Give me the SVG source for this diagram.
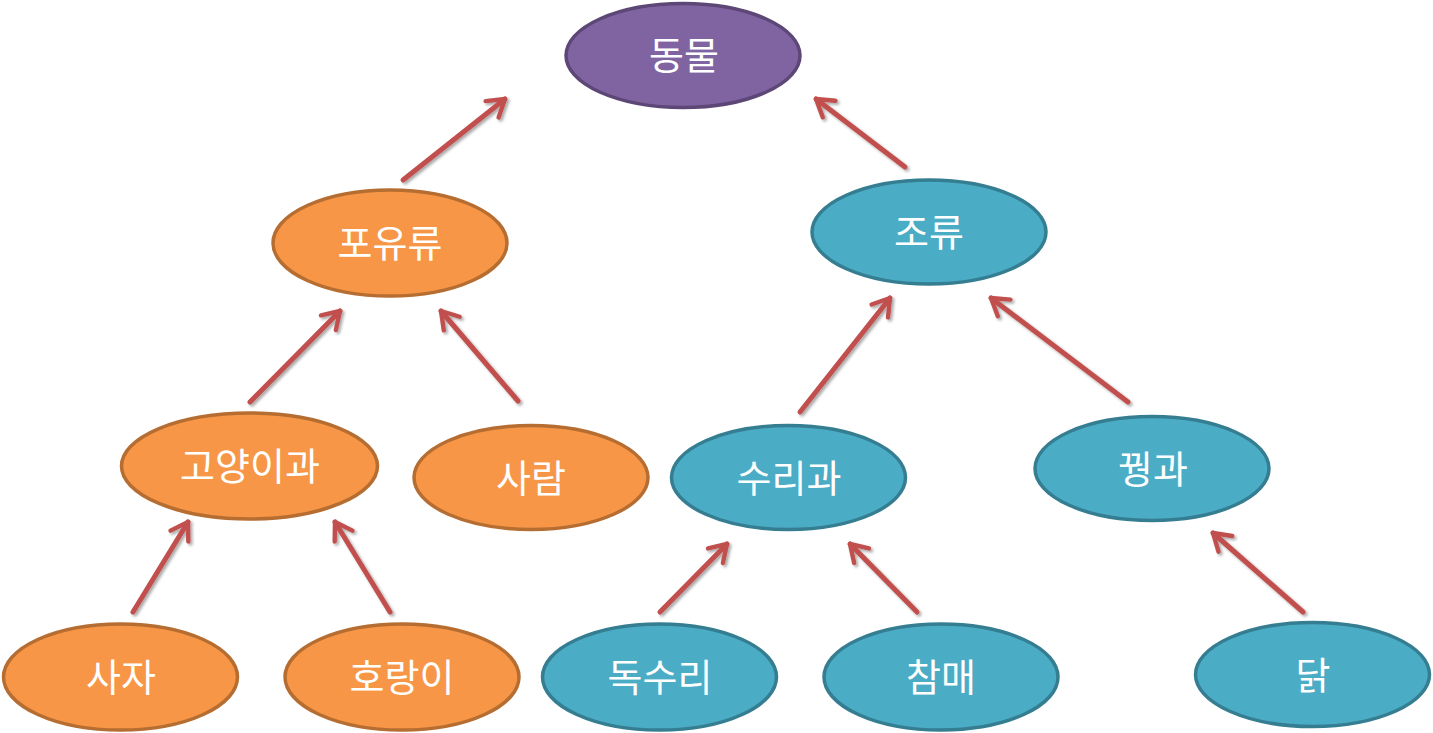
<svg xmlns="http://www.w3.org/2000/svg" width="1433" height="733" viewBox="0 0 1433 733">
<defs>
<style>
.n ellipse{stroke-width:3.5}
.p ellipse{fill:#8064A2;stroke:#5C4776}
.o ellipse{fill:#F79646;stroke:#B66D31}
.b ellipse{fill:#4BACC6;stroke:#357D91}
text{font-family:"Noto Sans CJK KR","Noto Sans",sans-serif;font-size:38px;font-weight:400;fill:#FFFFFF;text-anchor:middle}
.c line{stroke:#C0504D;stroke-width:5;stroke-linecap:round;marker-end:url(#ah);filter:url(#sh)}
</style>
<marker id="ah" viewBox="0 0 10 10" refX="8" refY="5" markerWidth="5.5" markerHeight="5.5" orient="auto" markerUnits="strokeWidth">
<polyline points="2,1.2 8,5 2,8.8" fill="none" stroke="#C0504D" stroke-width="1.6" stroke-linecap="round" stroke-linejoin="round"/>
</marker>
<filter id="sh" x="-20%" y="-20%" width="140%" height="140%">
<feGaussianBlur in="SourceAlpha" stdDeviation="1.5"/>
<feOffset dx="1.5" dy="2" result="b"/>
<feComponentTransfer><feFuncA type="linear" slope="0.35"/></feComponentTransfer>
<feMerge><feMergeNode/><feMergeNode in="SourceGraphic"/></feMerge>
</filter>
</defs>
<g class="c" id="connectors">
<line x1="403" y1="180" x2="505" y2="99"/>
<line x1="905" y1="167" x2="816" y2="99"/>
<line x1="250" y1="402" x2="340" y2="311"/>
<line x1="518" y1="401" x2="441" y2="311"/>
<line x1="800" y1="412" x2="890" y2="298"/>
<line x1="1128" y1="402" x2="991" y2="298"/>
<line x1="133" y1="612" x2="188" y2="522"/>
<line x1="390" y1="612" x2="335" y2="522"/>
<line x1="660" y1="612" x2="727" y2="544"/>
<line x1="917" y1="612" x2="850" y2="544"/>
<line x1="1303" y1="612" x2="1213" y2="533"/>
</g>
<g id="n-animal" class="n p"><ellipse cx="683" cy="55.5" rx="117" ry="52"/><text x="684" y="69">동물</text></g>
<g id="n-mammal" class="n o"><ellipse cx="390" cy="243" rx="117" ry="53"/><text x="390" y="257">포유류</text></g>
<g id="n-bird" class="n b"><ellipse cx="929" cy="232" rx="117" ry="52"/><text x="929" y="246">조류</text></g>
<g id="n-felidae" class="n o"><ellipse cx="249.5" cy="466" rx="128" ry="53"/><text x="250" y="480">고양이과</text></g>
<g id="n-human" class="n o"><ellipse cx="531" cy="477.5" rx="117" ry="52"/><text x="531" y="492">사람</text></g>
<g id="n-accipitridae" class="n b"><ellipse cx="788.5" cy="477.5" rx="117" ry="52"/><text x="789" y="492">수리과</text></g>
<g id="n-phasianidae" class="n b"><ellipse cx="1152" cy="468.5" rx="117" ry="52"/><text x="1153" y="483">꿩과</text></g>
<g id="n-lion" class="n o"><ellipse cx="120.5" cy="677" rx="117" ry="53"/><text x="121" y="691">사자</text></g>
<g id="n-tiger" class="n o"><ellipse cx="402" cy="677" rx="117" ry="53"/><text x="402" y="691">호랑이</text></g>
<g id="n-eagle" class="n b"><ellipse cx="659.5" cy="677" rx="117" ry="53"/><text x="660" y="691">독수리</text></g>
<g id="n-goshawk" class="n b"><ellipse cx="941" cy="677" rx="117" ry="53"/><text x="941" y="691">참매</text></g>
<g id="n-chicken" class="n b"><ellipse cx="1312.5" cy="674.5" rx="117" ry="52"/><text x="1313" y="689">닭</text></g>
</svg>
